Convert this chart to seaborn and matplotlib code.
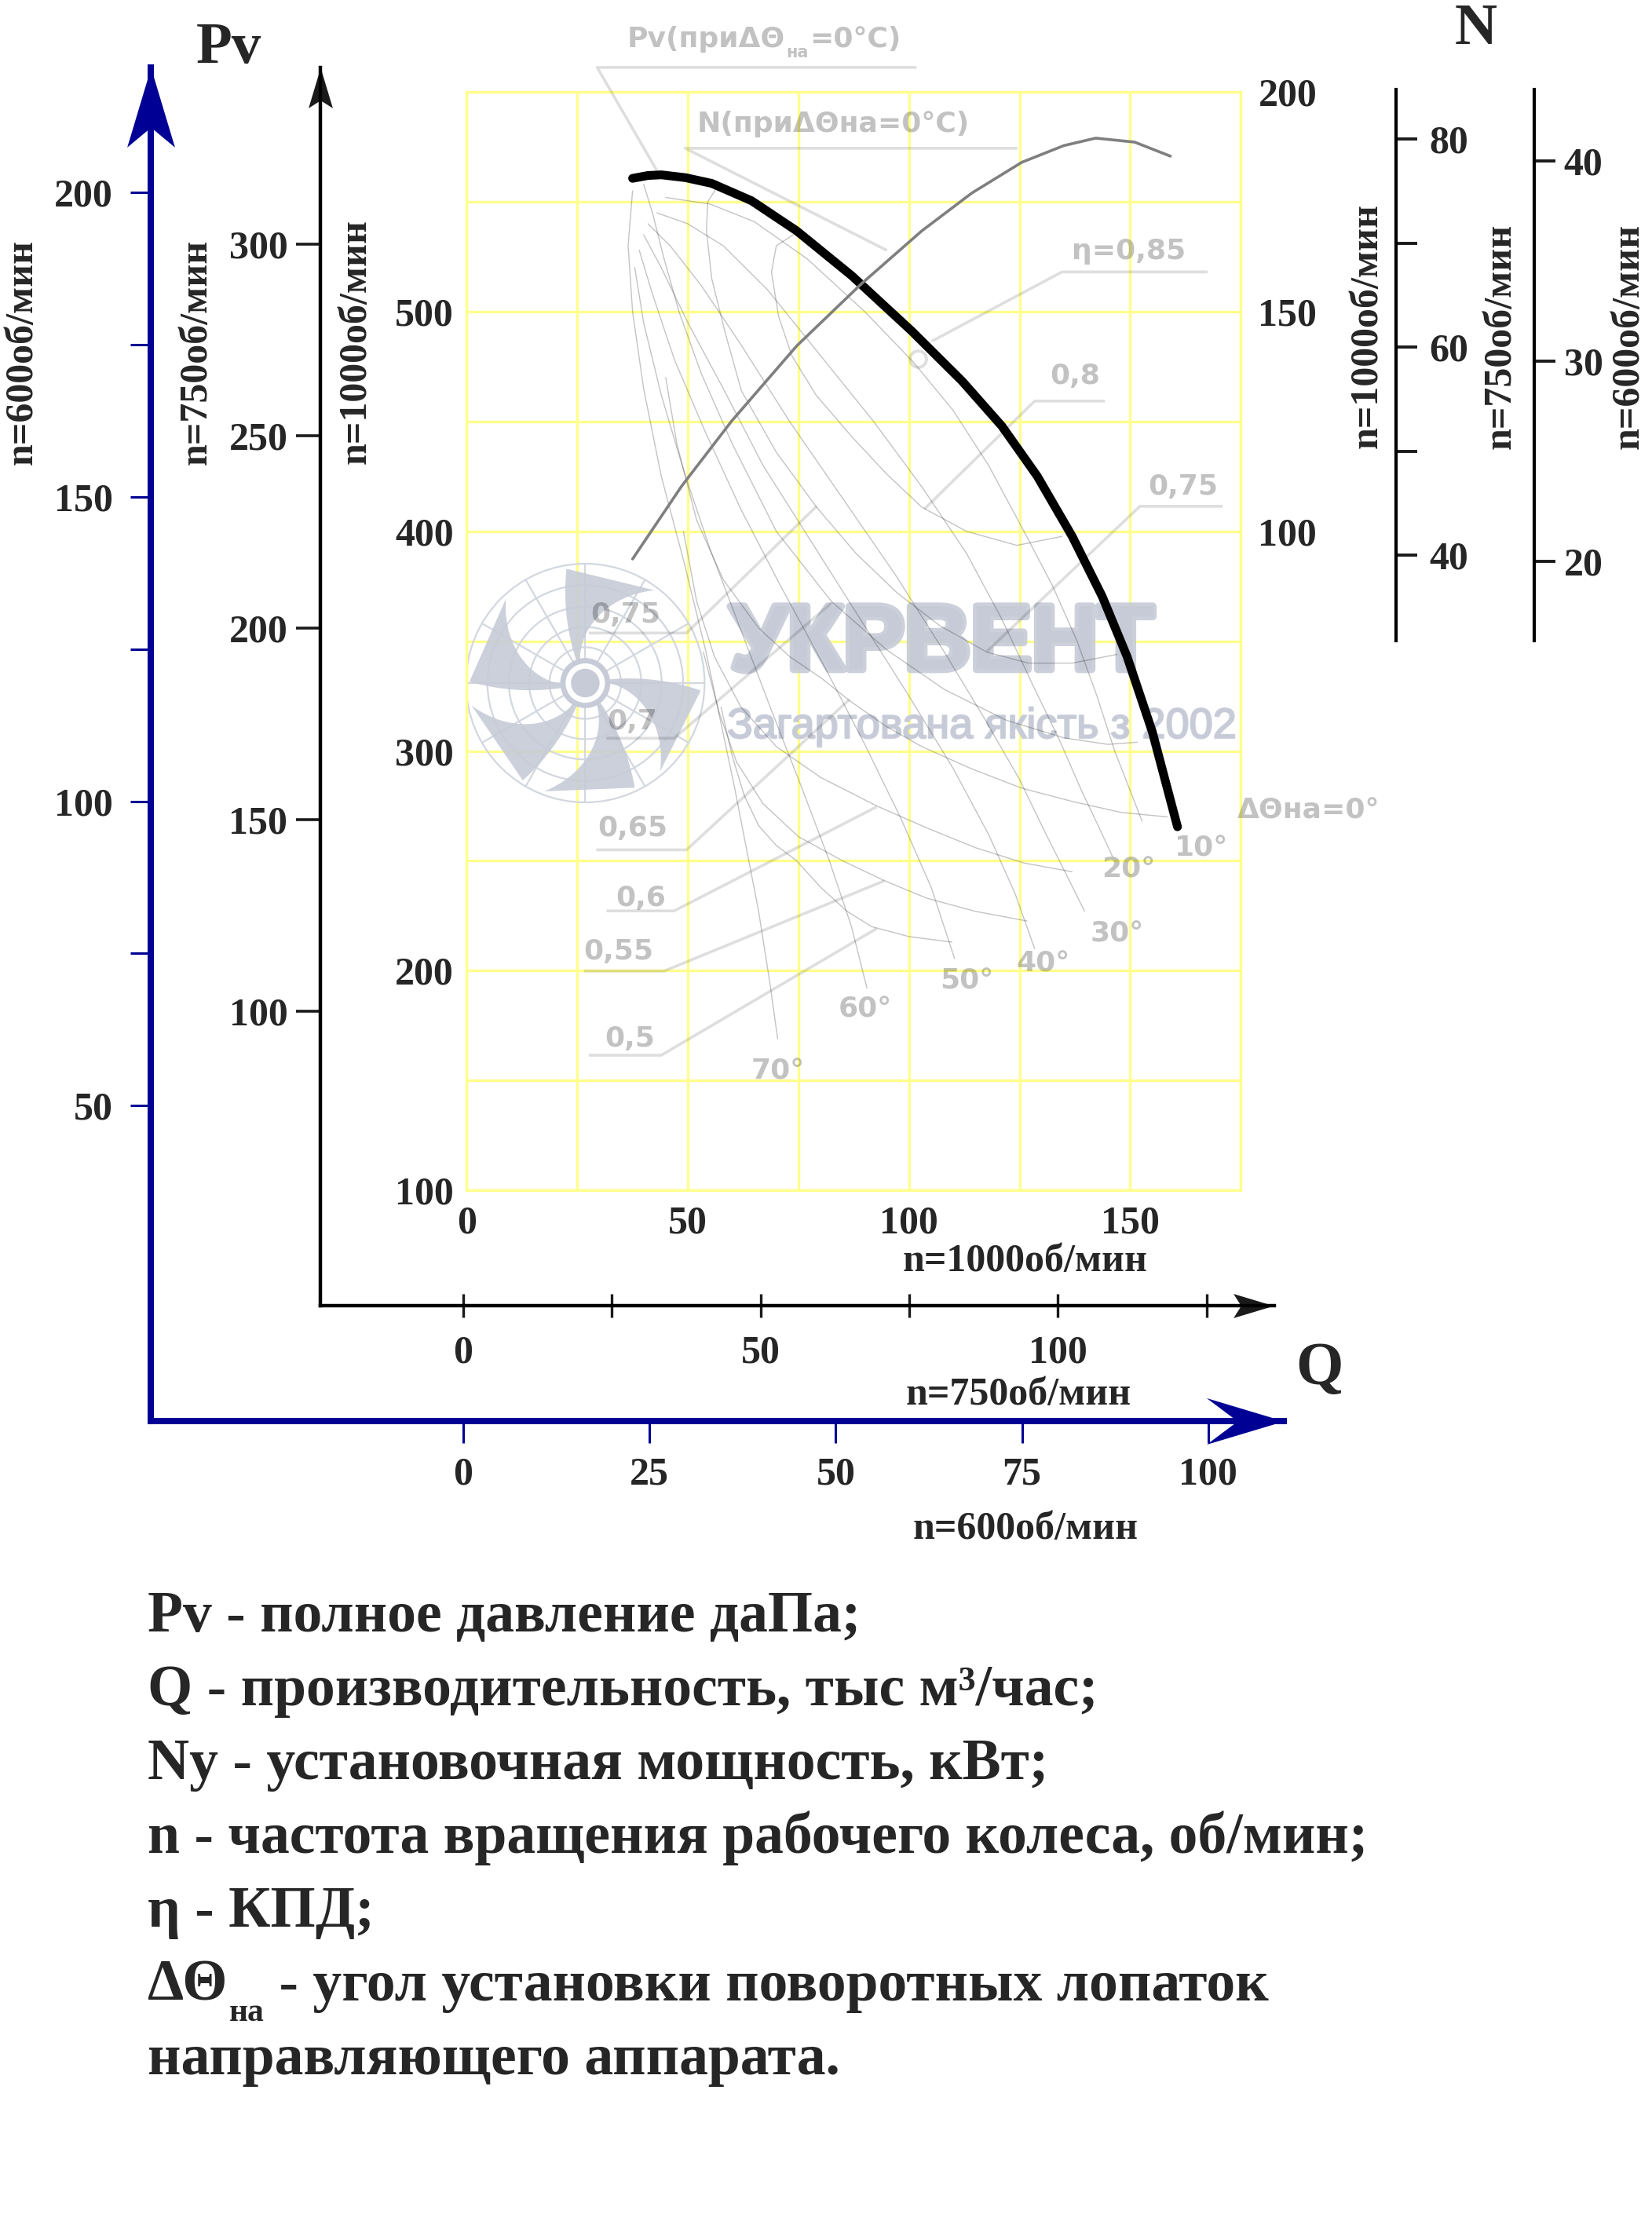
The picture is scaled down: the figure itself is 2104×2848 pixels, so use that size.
import matplotlib
matplotlib.use("Agg")
import matplotlib.pyplot as plt
import matplotlib.transforms as mtransforms
import matplotlib.patheffects as pe
from matplotlib.path import Path
from matplotlib.patches import Circle, Polygon
import numpy as np
import seaborn as sns

# ---------------- values ----------------
# main Pv curve at dTheta = 0 (n = 1000 rpm): Q [thous. m3/h], Pv [daPa]
pv0_q = [37.5, 41.0, 44.0, 49.5, 55.4, 64.4, 74.6, 87.1, 100.6, 112.0, 121.0, 129.0, 136.9, 143.7, 149.3, 155.0, 160.7]
pv0_pv = [560.7, 562.0, 562.3, 561.0, 558.4, 550.5, 536.8, 516.3, 491.2, 468.4, 447.9, 425.1, 397.7, 370.3, 343.0, 308.8, 265.5]

# power curve at dTheta = 0 (right-hand scale of the grid)
n0_q = [37.5, 48.6, 59.9, 74.6, 89.3, 102.9, 114.2, 125.5, 135.0, 142.2, 151.0, 159.1]
n0_n = [93.7, 110.3, 125.1, 142.2, 156.4, 168.4, 177.0, 184.0, 187.8, 189.5, 188.6, 185.4]

# thin characteristics for the guide vane angles
a10_q = [45, 55, 65, 77, 90, 101, 110, 118, 126, 132.5, 138, 142.5, 146.5, 150, 152.7]
a10_pv = [552, 549, 541, 524, 500, 477, 455, 430, 400, 375, 350, 325, 300, 282, 268]
a20_q = [43, 50, 58, 68, 80, 92, 103, 113, 121, 128, 134, 139, 143, 146]
a20_pv = [545, 540, 530, 510, 480, 450, 420, 390, 360, 330, 305, 282, 265, 252]
a30_q = [41, 46, 53, 62, 73, 85, 97, 108, 117, 125, 131, 136, 139.7]
a30_pv = [540, 530, 512, 485, 450, 415, 380, 345, 315, 287, 262, 242, 227]
a40_q = [40, 44, 50, 58, 67, 78, 89, 100, 110, 118, 124, 128.4]
a40_pv = [535, 520, 495, 465, 430, 395, 360, 325, 292, 262, 235, 210]
a50_q = [39, 42, 47, 54, 62, 71, 81, 90, 98, 105, 110.3]
a50_pv = [528, 508, 478, 445, 410, 375, 338, 303, 270, 238, 205.5]
a60_q = [38, 40, 44, 49, 55, 62, 69, 76, 82, 87, 90.5]
a60_pv = [520, 495, 462, 428, 392, 355, 318, 282, 250, 220, 192]
a70_q = [37.5, 36.5, 37.5, 40, 44, 49, 54, 60.5, 66, 68.5, 70.3]
a70_pv = [555, 530, 500, 465, 425, 387, 346, 284, 227, 195, 169]

# efficiency contours
e80_q = [74.6, 70.0, 68.9, 70.5, 73.5, 79.0, 87.1, 95.0, 102.9, 113.0, 124.4, 134.6]
e80_pv = [536, 530, 518, 498, 480, 462, 443, 426, 411, 400, 393.6, 397.7]
e75_q = [57, 54.5, 54.2, 55.4, 58.5, 62.1, 70, 79.1, 88, 97.3, 107, 117.6, 127, 136.9, 147.1]
e75_pv = [558, 550, 537, 515, 490, 464, 436, 411, 390, 372, 357, 345, 340, 340, 344]
e70_q = [40, 42, 44.5, 48, 53, 60, 70, 82.5, 95, 108, 122, 135, 145, 151.6]
e70_pv = [558, 545, 525, 500, 472, 440, 400, 368, 346, 328, 314, 306, 303, 304]
e65_q = [45, 47.5, 52, 58, 66, 73, 80.3, 86.5, 95, 102.9, 114, 125.6, 137, 148, 158.4]
e65_pv = [470, 440, 405, 378, 356, 343, 333, 323, 311, 302, 292, 283, 277, 272, 270]
e60_q = [49, 52, 56, 62, 70, 80, 92.7, 104, 115, 126, 136.9]
e60_pv = [400, 368, 343, 320, 302, 288, 275, 265, 256, 249, 245]
e55_q = [53.5, 57, 61, 67, 75, 85, 94.4, 104, 115, 126.7]
e55_pv = [345, 318, 295, 276, 261, 250, 241, 233, 227, 222.6]
e50_q = [57.5, 60, 62.7, 66, 70, 74.6, 80, 86, 91.6, 100, 109.7]
e50_pv = [320, 298, 280, 266, 257, 250, 238, 227, 220, 215.5, 213]

# best efficiency point (small circle)
best_q = [102.0]
best_pv = [478.6]

# efficiency labels with their leader lines
eta_text = ["η=0,85", "0,8", "0,75", "0,75", "0,7", "0,65", "0,6", "0,55", "0,5"]
eta_text_q = [149.7, 137.5, 162.0, 36.0, 37.5, 37.5, 39.4, 34.4, 36.8]
eta_text_pv = [524, 467, 416.6, 358.3, 310, 261.4, 229.5, 205, 165.6]
lead_q_free = [167.5, 144.3, 170.9, 27.6, 31.6, 29.3, 31.6, 26.5, 27.6]
lead_q_joint = [134.6, 128.4, 152.2, 49.7, 46.9, 49.7, 46.9, 44.6, 44.0]
lead_pv = [518.1, 459.3, 411.4, 353.7, 305.8, 255.0, 227.2, 199.8, 161.5]
lead_tip_q = [105.2, 103.5, 117.6, 79.1, 82.5, 86.5, 92.7, 94.4, 92.7]
lead_tip_pv = [486.6, 410.2, 345.3, 411.4, 367.4, 323.4, 274.6, 240.9, 219.2]

# guide vane angle labels
angle_text = ["ΔΘна=0°", "10°", "20°", "30°", "40°", "50°", "60°", "70°"]
angle_q = [190.4, 166.1, 149.7, 147.1, 130.4, 113.1, 90.1, 70.3]
angle_pv = [273, 255.7, 245.9, 216.9, 203, 195.3, 182.3, 154.2]

# curve captions above the grid (text start, underline, leader tip)
cap_q = [36.2, 52.0]
cap_pv = [620.4, 581.8]
cap_line_q0 = [101.7, 124.5]
cap_line_q1 = [29.5, 49.4]
cap_line_pv = [611.2, 574.4]
cap_tip_q = [43.5, 95.0]
cap_tip_pv = [562.5, 527.9]

# scales
q1000_grid = [0, 25, 50, 75, 100, 125, 150, 175]
q1000_ticks = [0, 50, 100, 150]
pv1000_grid = [100, 150, 200, 250, 300, 350, 400, 450, 500, 550, 600]
pv1000_ticks = [100, 200, 300, 400, 500]
right_ticks = [100, 150, 200]
q750_ticks = [0, 25, 50, 75, 100, 125]
q750_labels = ["0", "", "50", "", "100", ""]
pv750_ticks = [100, 150, 200, 250, 300]
q600_ticks = [0, 25, 50, 75, 100]
pv600_ticks = [50, 75, 100, 125, 150, 175, 200]
pv600_labels = ["50", "", "100", "", "150", "", "200"]
n1000_ticks = [40, 50, 60, 70, 80]
n1000_labels = ["40", "", "60", "", "80"]
n750_ticks = [20, 30, 40]

legend_lines = [
    "Pv - полное давление даПа;",
    "Q - производительность, тыс м³/час;",
    "Ny - установочная мощность, кВт;",
    "n - частота вращения рабочего колеса, об/мин;",
    "η - КПД;",
]

# ---------------- style ----------------
sns.set_theme(style="white")
plt.rcParams["font.family"] = ["Liberation Serif", "DejaVu Serif"]
plt.rcParams["font.weight"] = "bold"

BLUE = "#000094"
YELLOW = "#ffff8c"
WM = "#c6cbd7"
SANS = ["DejaVu Sans"]
GREY_TXT = (0, 0, 0, 0.24)
GREY_LEAD = (0, 0, 0, 0.13)
THIN = dict(color="k", alpha=0.26, lw=0.5, zorder=3)

W, H, DPI = 2104, 2848, 200
fig = plt.figure(figsize=(W / DPI, H / DPI), dpi=DPI, facecolor="white")


def frame(x0, y0, x1, y1):
    """axes from a pixel box, top-left origin"""
    a = fig.add_axes([x0 / W, 1 - y1 / H, (x1 - x0) / W, (y1 - y0) / H])
    a.patch.set_visible(False)
    return a


def ftext(x, y, s, **kw):
    return fig.text(x / W, 1 - y / H, s, **kw)


def head(depth, half, direction="up"):
    v = [(0, 0), (-half, -1), (0, -depth), (half, -1), (0, 0)]
    if direction == "right":
        v = [(y, -x) for x, y in v]
    return Path(v, [Path.MOVETO, Path.LINETO, Path.LINETO, Path.LINETO, Path.CLOSEPOLY])


def only_spines(a, keep, color, lw):
    for side, sp in a.spines.items():
        sp.set_visible(side in keep)
        sp.set_color(color)
        sp.set_linewidth(lw)


# ---------------- n = 600 scale (blue) ----------------
ax600 = frame(192, 86, 1634.6, 1810)
ax600.set_xlim(-41.95, 110.1)
ax600.set_ylim(-1.8, 220.5)
only_spines(ax600, ("left", "bottom"), BLUE, 2.9)
ax600.set_xticks(q600_ticks, [str(t) for t in q600_ticks])
ax600.set_yticks(pv600_ticks, pv600_labels)
ax600.tick_params(axis="y", left=True, direction="out", length=9.4, width=1.1, color=BLUE, pad=8, labelsize=18)
ax600.tick_params(axis="x", bottom=True, direction="out", length=10, width=1.1, color=BLUE, pad=6.5, labelsize=18)
ax600.plot([0], [1], marker=head(0.75, 0.3), ms=73, color=BLUE, mew=0,
           transform=ax600.transAxes, clip_on=False)
ax600.plot([1], [0], marker=head(0.6, 0.3, "right"), ms=71, color=BLUE, mew=0,
           transform=ax600.transAxes, clip_on=False)

# ---------------- n = 750 scale (black) ----------------
ax750 = frame(408, 86, 1622.5, 1663)
ax750.set_xlim(-24.0, 136.3)
ax750.set_ylim(23.3, 346.1)
only_spines(ax750, ("left", "bottom"), "black", 1.6)
ax750.set_xticks(q750_ticks, q750_labels)
ax750.set_yticks(pv750_ticks, [str(t) for t in pv750_ticks])
ax750.tick_params(axis="y", left=True, direction="out", length=11, width=1.3, color="k", pad=4, labelsize=18)
ax750.tick_params(axis="x", bottom=True, direction="inout", length=10.8, width=1.2, color="k", pad=8, labelsize=18)
ax750.plot([0], [1], marker=head(0.81, 0.3), ms=37, color="k", mew=0,
           transform=ax750.transAxes, clip_on=False)
ax750.plot([1], [0], marker=head(0.81, 0.3, "right"), ms=37, color="k", mew=0,
           transform=ax750.transAxes, clip_on=False)

# ---------------- N scales on the right ----------------
axn1 = frame(1767.7, 113.8, 1777.7, 815.7)
axn1.set_ylim(31.82, 84.78)
axn2 = frame(1944, 113.8, 1954, 815.7)
axn2.set_ylim(16.07, 43.57)
for a, ticks, labels, pad in ((axn1, n1000_ticks, n1000_labels, 5.6), (axn2, n750_ticks, [str(t) for t in n750_ticks], 4)):
    only_spines(a, ("right",), "black", 1.5)
    a.set_xticks([])
    a.set_yticks(ticks, labels)
    a.tick_params(axis="y", left=False, right=True, labelleft=False, labelright=True,
                  direction="out", length=9.6, width=1.4, color="k", pad=pad, labelsize=18)

# ---------------- main grid (n = 1000) ----------------
ax = frame(594.4, 117.2, 1580.2, 1516.1)
ax.set_xlim(0, 175)
ax.set_ylim(100, 600)
ax.set_axisbelow(True)
ax.set_xticks(q1000_grid, minor=True)
ax.set_yticks(pv1000_grid, minor=True)
ax.set_xticks(q1000_ticks, [str(t) for t in q1000_ticks])
ax.set_yticks(pv1000_ticks, [str(t) for t in pv1000_ticks])
ax.grid(which="both", color=YELLOW, lw=1.2)
ax.tick_params(which="both", length=0, labelsize=18)
ax.tick_params(axis="y", pad=6)
ax.tick_params(axis="x", pad=7)
only_spines(ax, ("left", "right", "top", "bottom"), YELLOW, 1.2)

# watermark logo, fixed in pixels
LOGO_X, LOGO_Y, LOGO_R = 745.4, 870.0, 152.0
logo_tf = mtransforms.Affine2D().scale(LOGO_R).translate(LOGO_X, H - LOGO_Y)
for rr in (0.3, 0.47, 0.64, 0.82, 1.0):
    ax.add_patch(Circle((0, 0), rr, transform=logo_tf, fill=False, ec="#d3d7df", lw=0.8, zorder=2))
for ang in np.deg2rad(np.arange(0, 360, 30)):
    ax.plot([0.21 * np.cos(ang), np.cos(ang)], [0.21 * np.sin(ang), np.sin(ang)],
            transform=logo_tf, color="#d3d7df", lw=0.8, zorder=2)
for tip in (77, 157, 215, 273, 334):
    r = np.linspace(0.18, 0.97, 24)
    c = np.deg2rad(tip + 31) - 0.7 * (r - 0.18)
    hw = 0.07 + 0.42 * (r - 0.18)
    pts = np.vstack([np.c_[r * np.cos(c + hw), r * np.sin(c + hw)],
                     np.c_[r * np.cos(c - hw), r * np.sin(c - hw)][::-1]])
    ax.add_patch(Polygon(pts, closed=True, transform=logo_tf, fc=WM, ec="none", alpha=0.9, zorder=2.1))
ax.add_patch(Circle((0, 0), 0.21, transform=logo_tf, fc=WM, ec="none", zorder=2.2))
ax.add_patch(Circle((0, 0), 0.165, transform=logo_tf, fc="white", ec="none", zorder=2.3))
ax.add_patch(Circle((0, 0), 0.12, transform=logo_tf, fc=WM, ec="none", zorder=2.4))
ax.text(1199.5 / W, 1 - 822 / H, "УКРВЕНТ", transform=fig.transFigure, ha="center", va="center",
        fontsize=42, color=WM, alpha=0.9, family=["Liberation Sans", "DejaVu Sans"],
        fontweight="bold", zorder=2,
        path_effects=[pe.withStroke(linewidth=3.5, foreground=WM)])
ax.text(1250 / W, 1 - 926 / H, "Загартована якість з 2002", transform=fig.transFigure,
        ha="center", va="center", fontsize=19.5, color=WM, alpha=0.9, fontweight="normal",
        family=["Liberation Sans", "DejaVu Sans"], zorder=2,
        path_effects=[pe.withStroke(linewidth=0.8, foreground=WM)])

# thin characteristics
for q, pv in ((a10_q, a10_pv), (a20_q, a20_pv), (a30_q, a30_pv), (a40_q, a40_pv),
              (a50_q, a50_pv), (a60_q, a60_pv), (a70_q, a70_pv),
              (e80_q, e80_pv), (e75_q, e75_pv), (e70_q, e70_pv), (e65_q, e65_pv),
              (e60_q, e60_pv), (e55_q, e55_pv), (e50_q, e50_pv)):
    sns.lineplot(x=q, y=pv, ax=ax, sort=False, estimator=None, **THIN)
ax.plot(best_q, best_pv, "o", ms=7.5, mfc="none", mec=GREY_LEAD, mew=1.4, zorder=4)

# efficiency labels and leaders
for i, s in enumerate(eta_text):
    ax.plot([lead_q_free[i], lead_q_joint[i], lead_tip_q[i]], [lead_pv[i], lead_pv[i], lead_tip_pv[i]],
            color=GREY_LEAD, lw=1.3, zorder=4, solid_capstyle="butt")
    ax.text(eta_text_q[i], eta_text_pv[i], s, ha="center", va="baseline", fontsize=13,
            family=SANS, color=GREY_TXT, zorder=5)
for s, q, pv in zip(angle_text, angle_q, angle_pv):
    ax.text(q, pv, s, ha="center", va="center", fontsize=13, family=SANS, color=GREY_TXT,
            zorder=5, clip_on=False)

# captions of the two curves
for i in range(2):
    ax.plot([cap_line_q0[i], cap_line_q1[i], cap_tip_q[i]], [cap_line_pv[i], cap_line_pv[i], cap_tip_pv[i]],
            color=GREY_LEAD, lw=1.3, zorder=4, clip_on=False, solid_capstyle="butt")
t1 = ax.text(cap_q[0], cap_pv[0], "Pv(приΔΘ", ha="left", va="baseline", fontsize=13,
             family=SANS, color=GREY_TXT, clip_on=False)
t2 = ax.annotate("на", xy=(1, 0), xycoords=t1, xytext=(0.5, 0), textcoords="offset points",
                 ha="left", va="center", fontsize=7.5, family=SANS, color=GREY_TXT, annotation_clip=False)
ax.annotate("=0°C)", xy=(1, 0), xycoords=(t2, t1), xytext=(0.5, 0), textcoords="offset points",
            ha="left", va="bottom", fontsize=13, family=SANS, color=GREY_TXT, annotation_clip=False)
ax.text(cap_q[1], cap_pv[1], "N(приΔΘна=0°C)", ha="left", va="baseline", fontsize=13,
        family=SANS, color=GREY_TXT, clip_on=False)

# main Pv curve
sns.lineplot(x=pv0_q, y=pv0_pv, ax=ax, sort=False, estimator=None, color="black", lw=4.0, zorder=6)
ax.set_xlabel("")
ax.set_ylabel("")

# right-hand scale with the power curve
axr = ax.twinx()
axr.set_ylim(-50, 200)
axr.set_yticks(right_ticks, [str(t) for t in right_ticks])
axr.tick_params(length=0, pad=8, labelsize=18)
for sp in axr.spines.values():
    sp.set_visible(False)
sns.lineplot(x=n0_q, y=n0_n, ax=axr, sort=False, estimator=None, color="#7f7f7f", lw=1.3)
axr.set_ylabel("")

# ---------------- axis captions ----------------
for x, y, s in ((28.7, 448, "n=600об/мин"), (250.7, 448, "n=750об/мин"), (453.5, 435, "n=1000об/мин"),
                (1741.7, 415, "n=1000об/мин"), (1911.7, 428, "n=750об/мин"), (2075, 428, "n=600об/мин")):
    ftext(x, y, s, rotation=90, ha="center", va="center", fontsize=18)
for x, y, s in ((1305.7, 1607, "n=1000об/мин"), (1297, 1777, "n=750об/мин"), (1305.7, 1948, "n=600об/мин")):
    ftext(x, y, s, ha="center", va="center", fontsize=18)
ftext(291, 62, "Pv", ha="center", va="center", fontsize=27)
ftext(1680, 1745, "Q", ha="center", va="center", fontsize=28)
ftext(1880, 38, "N", ha="center", va="center", fontsize=27)

# ---------------- legend text ----------------
BASE0, STEP, FS = 2078, 94, 26.5
for i, s in enumerate(legend_lines):
    ftext(188, BASE0 + i * STEP, s, ha="left", va="baseline", fontsize=FS)
d1 = ftext(188, BASE0 + 5 * STEP, "ΔΘ", ha="left", va="baseline", fontsize=FS)
sub = plt.annotate("на", xy=(1, 0), xycoords=d1, xytext=(1, 0), textcoords="offset points",
                   ha="left", va="center", fontsize=15, annotation_clip=False)
plt.annotate(" - угол установки поворотных лопаток", xy=(1, 0), xycoords=(sub, d1),
             xytext=(0, 0), textcoords="offset points", ha="left", va="bottom", fontsize=FS,
             annotation_clip=False)
ftext(188, BASE0 + 6 * STEP, "направляющего аппарата.", ha="left", va="baseline", fontsize=FS)

fig.savefig("out.png", dpi=DPI, facecolor="white")
